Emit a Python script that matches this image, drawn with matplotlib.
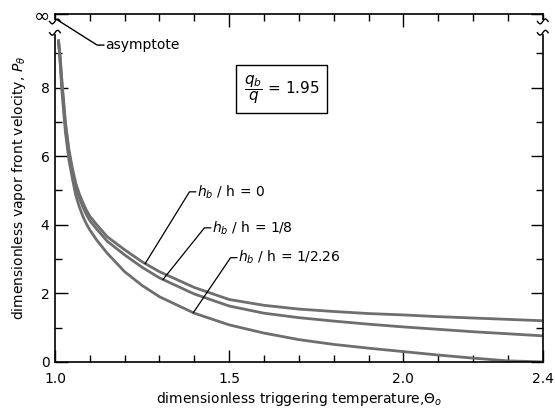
import numpy as np
import matplotlib
matplotlib.use("Agg")
import matplotlib.pyplot as plt

plt.rcParams['font.family'] = ['DejaVu Sans']
plt.rcParams['mathtext.fontset'] = 'dejavusans'

# triggering temperature and vapor front velocity for each bottom-layer ratio
theta = [1.01, 1.015, 1.02, 1.03, 1.04, 1.05, 1.06, 1.07, 1.08, 1.09, 1.10, 1.12,
         1.15, 1.20, 1.25, 1.30, 1.40, 1.50, 1.60, 1.70, 1.80, 1.90, 2.00,
         2.10, 2.20, 2.30, 2.40]
p_hb0 = [9.4, 8.9, 8.2, 7.0, 6.2, 5.65, 5.2, 4.9, 4.65, 4.43, 4.25, 4.0,
         3.65, 3.27, 2.92, 2.63, 2.17, 1.82, 1.65, 1.54, 1.47, 1.41, 1.37,
         1.32, 1.28, 1.24, 1.20]
p_hb8 = [9.4, 8.8, 8.1, 6.9, 6.1, 5.55, 5.1, 4.78, 4.52, 4.3, 4.12, 3.87,
         3.52, 3.12, 2.76, 2.45, 1.98, 1.63, 1.42, 1.29, 1.19, 1.10, 1.02,
         0.95, 0.88, 0.82, 0.76]
p_hb226 = [9.4, 8.7, 7.9, 6.7, 5.9, 5.35, 4.85, 4.52, 4.25, 4.03, 3.85, 3.55,
           3.17, 2.63, 2.23, 1.90, 1.42, 1.08, 0.84, 0.65, 0.51, 0.40, 0.30,
           0.20, 0.11, 0.03, 0.0]
curve_labels = [r'$h_b$ / h = 0', r'$h_b$ / h = 1/8', r'$h_b$ / h = 1/2.26']

x_ticks = [1.0, 1.5, 2.0, 2.4]
y_ticks = [0, 2, 4, 6, 8]
y_top = 10.15

fig = plt.figure(figsize=(5.55, 4.08), dpi=100)
ax = fig.add_axes([0.099, 0.113, 0.879, 0.853])

curves = [p_hb0, p_hb8, p_hb226]
for p in curves:
    ax.plot(theta, p, color='#6e6e6e', lw=2.0, solid_capstyle='butt')

ax.set_xlim(1.0, 2.4)
ax.set_ylim(0, y_top)

ax.set_xticks(x_ticks)
ax.set_xticklabels(['1.0', '1.5', '2.0', '2.4'])
ax.set_xticks(np.arange(1.1, 2.4, 0.1), minor=True)
ax.set_yticks(y_ticks + [y_top])
ax.set_yticklabels([str(v) for v in y_ticks] + [r'$\infty$'])
ax.set_yticks([1, 3, 5, 7, 9], minor=True)
ax.tick_params(which='both', direction='in', top=True, right=True,
               labelsize=10, width=1.0)
ax.tick_params(axis='x', pad=7)
ax.tick_params(axis='y', pad=4)
ax.tick_params(which='major', length=9)
ax.tick_params(which='minor', length=5)
ax.get_yticklabels()[-1].set_fontsize(14)
for s in ax.spines.values():
    s.set_linewidth(1.2)

ax.set_xlabel(r'dimensionless triggering temperature,$\Theta_o$', fontsize=10, labelpad=3)
ax.set_ylabel(r'dimensionless vapor front velocity, $P_\theta$', fontsize=10, labelpad=4)

# axis break: gap in both vertical spines, closed by two small wiggles
ytr = ax.get_yaxis_transform()
wx = np.linspace(-0.011, 0.011, 25)
wy = 0.07 * np.sin(wx / 0.011 * np.pi)
for xb in (0.0, 1.0):
    ax.plot([xb, xb], [9.62, 9.9], color='white', lw=3, transform=ytr,
            clip_on=False, zorder=5)
    for yb in (9.93, 9.6):
        ax.plot(xb + wx, yb + wy, color='black', lw=1.0, transform=ytr,
                clip_on=False, zorder=6)

# asymptote pointer
ax.plot([1.006, 1.121, 1.14], [9.98, 9.24, 9.24], color='black', lw=1.0, clip_on=False)
ax.text(1.145, 9.24, 'asymptote', fontsize=10, va='center', ha='left')

# labelled leaders onto each curve
label_pos = [(1.408, 4.96), (1.451, 3.91), (1.526, 3.04)]
hit_theta = [1.259, 1.31, 1.397]
for lab, (tx, ty), hx, p in zip(curve_labels, label_pos, hit_theta, curves):
    hy = np.interp(hx, theta, p)
    ax.plot([tx - 0.004, tx - 0.022, hx], [ty, ty, hy], color='black', lw=0.9)
    ax.text(tx, ty, lab, fontsize=10, va='center', ha='left')

# heat flux ratio box
ax.text(1.65, 7.95, r'$\dfrac{q_b}{q}$ = 1.95', fontsize=11, ha='center', va='center',
        bbox=dict(boxstyle='square,pad=0.5', fc='white', ec='black', lw=1.0))

fig.savefig('out.png', dpi=100)
